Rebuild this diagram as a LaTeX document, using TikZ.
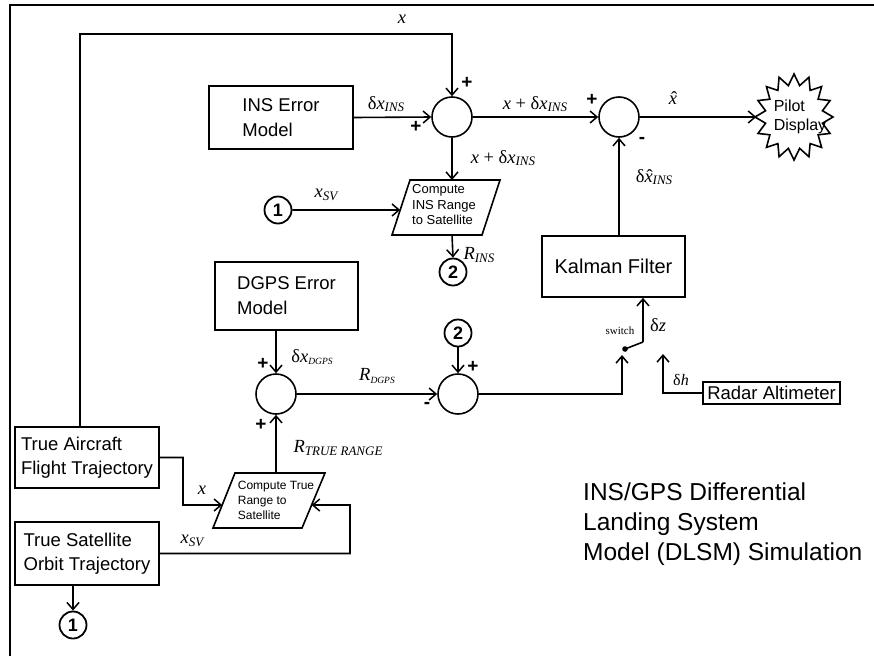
\documentclass[tikz,border=0pt]{standalone}
\usepackage{fontspec}
\setmainfont{Liberation Sans}
\newfontfamily\tms{Liberation Serif}
\usetikzlibrary{arrows.meta,calc}
\newcommand\subit[1]{\raisebox{-0.32ex}{\fontsize{13}{13}\selectfont\itshape #1}}
\newcommand\subsm[1]{\raisebox{-0.32ex}{\fontsize{9.5}{9.5}\selectfont\itshape #1}}
\newcommand\xhat{\ooalign{\textit{x}\cr\hidewidth\kern0.12em ˆ\hidewidth\cr}}
\tikzset{
  lw/.style={line width=1.6pt},
  arr/.style={lw, -{Straight Barb[length=7pt,width=12pt,line width=1.5pt]}},
  blk/.style={draw, lw, align=left, font=\fontsize{18.5}{25}\selectfont, inner sep=0pt},
  sumc/.style={draw, circle, lw, minimum size=40pt, inner sep=0pt},
  conn/.style={draw, circle, line width=1.8pt, minimum size=27pt, inner sep=0pt, font=\fontsize{18}{18}\selectfont\bfseries},
  sgn/.style={font=\fontsize{19}{19}\selectfont\bfseries, inner sep=0pt},
  lbl/.style={font=\tms\fontsize{18.5}{18.5}\selectfont, inner sep=0pt},
  ptext/.style={align=left, inner sep=0pt},
}
\begin{document}
\begin{tikzpicture}[x=1pt,y=-1pt]
\useasboundingbox (0,0) rectangle (874,656);
% frame
\draw[line width=1.3pt] (10,656) -- (10,5) -- (874,5);

% blocks
\node[blk, minimum width=144pt, minimum height=63pt] (ins) at (281,117.5) {INS Error\\Model};
\node[blk, minimum width=143pt, minimum height=68pt] (dgps) at (286.5,296) {DGPS Error\\Model};
\node[blk, minimum width=143pt, minimum height=61pt, align=center, font=\fontsize{20}{24}\selectfont] (kf) at (613.5,266.5) {Kalman Filter};
\node[blk, minimum width=137pt, minimum height=22pt, align=center] (ra) at (771.5,393) {Radar Altimeter};
\node[blk, minimum width=144pt, minimum height=61pt, font=\fontsize{18.5}{24}\selectfont] (ta) at (87,457.5) {True Aircraft\\Flight Trajectory};
\node[blk, minimum width=144pt, minimum height=63pt, font=\fontsize{18.5}{24}\selectfont] (ts) at (87,553.5) {True Satellite\\Orbit Trajectory};

% pilot display star
\node[minimum width=75pt, minimum height=85pt, inner sep=0pt] (pd) at (794,117) {};
\draw[lw, line join=miter] plot[samples at={0,...,31}, variable=\k]
  ({794+(mod(\k,2)==0 ? 39 : 29)*cos(90+\k*11.25)}, {117+(mod(\k,2)==0 ? 43 : 32)*sin(90+\k*11.25)}) -- cycle;
\node[align=left, inner sep=0pt, font=\fontsize{16}{18.5}\selectfont] (pdt) at (800,117) {Pilot\\Display};

% summing junctions
\node[sumc] (s1) at (452,117) {};
\node[sumc] (s2) at (619,117) {};
\node[sumc] (s3) at (276,394) {};
\node[sumc] (s4) at (458,394) {};

% connectors (off-page)
\node[conn] (c1a) at (278,210) {1};
\node[conn] (c2a) at (453,272) {2};
\node[conn] (c2b) at (458,333) {2};
\node[conn] (c1b) at (73,625) {1};

% parallelogram: INS range
\coordinate (pa1) at (392,235); \coordinate (pa2) at (482,235);
\coordinate (pa3) at (500,180); \coordinate (pa4) at (410,180);
\draw[lw, line join=miter] (pa1) -- (pa2) -- (pa3) -- (pa4) -- cycle;
\node[ptext, font=\fontsize{13}{15.5}\selectfont] (cins) at (444,205) {Compute\\INS Range\\to Satellite};
% parallelogram: true range
\coordinate (pb1) at (213,528); \coordinate (pb2) at (302,528);
\coordinate (pb3) at (325,473); \coordinate (pb4) at (235,473);
\draw[lw, line join=miter] (pb1) -- (pb2) -- (pb3) -- (pb4) -- cycle;
\node[ptext, font=\fontsize{12}{15}\selectfont] (ctr) at (276,500) {Compute True\\Range to\\Satellite};

\coordinate (ledge) at ($(pa1)!0.455!(pa4)$);
\coordinate (tledge) at ($(pb1)!0.418!(pb4)$);
\coordinate (tredge) at ($(pb2)!0.418!(pb3)$);
\coordinate (lc) at (80,34);
\coordinate (tl) at (183,505);
\coordinate (tr) at (350,505);
\coordinate (swin) at (622,355);
\coordinate (swd) at (625,349);
\coordinate (swe) at (643,342);
\coordinate (rin) at (663,354);

% wiring
\draw[arr] (ins.east) -- (s1.west);
\draw[arr] (ta.north -| lc) -- (lc) -| (s1.north);
\draw[arr] (s1.east) -- (s2.west);
\draw[arr] (s2.east) -- (pd.west);
\draw[arr] (s2.south |- kf.north) -- (s2.south);
\draw[arr] (s1.south) -- (s1.south |- pa4);
\draw[arr] (c1a.east) -- (ledge);
\draw[arr] (s1.south |- pa1) -- (c2a.north);
\draw[arr] (s3.north |- dgps.south) -- (s3.north);
\draw[arr] (s3.east) -- (s4.west);
\draw[arr] (c2b.south) -- (s4.north);
\draw[arr] (s4.east) -| (swin);
\fill (swd) circle (2.8pt);
\draw[lw] (swd) -- (swe);
\draw[arr] (swe) -- (swe |- kf.south);
\draw[arr] (ra.west) -| (rin);
\draw[arr] (ta.east) -| (tl) -- (tledge);
\draw[arr] (ts.east) -| (tr) -- (tredge);
\draw[arr] (s3.south |- pb4) -- (s3.south);
\draw[arr] (c1b.north |- ts.south) -- (c1b.north);

% signs
\node[sgn] (p1) at (467,83) {+};
\node[sgn] (p2) at (416,127) {+};
\node[sgn] (p3) at (592,100) {+};
\node[sgn] (m1) at (642,140) {-};
\node[sgn] (p4) at (263,364) {+};
\node[sgn] (p5) at (261,425) {+};
\node[sgn] (m2) at (427,405) {-};
\node[sgn] (p6) at (473,367) {+};

% labels
\node[lbl] (lx) at (402,19) {\textit{x}};
\node[lbl] (ldi) at (386,104) {δ\textit{x}\subit{INS}};
\node[lbl] (lxd1) at (535,104) {\textit{x} + δ\textit{x}\subit{INS}};
\node[lbl] (lxd2) at (503,158) {\textit{x} + δ\textit{x}\subit{INS}};
\node[lbl] (lxh) at (673,100) {\xhat};
\node[lbl] (ldxh) at (654,177) {δ\xhat\subit{INS}};
\node[lbl] (lxsv1) at (326,195) {\textit{x}\subit{SV}};
\node[lbl] (lrins) at (479,255) {\textit{R}\subit{INS}};
\node[lbl] (ldg) at (312,357) {δ\textit{x}\subsm{DGPS}};
\node[lbl] (lrdg) at (377,376) {\textit{R}\subsm{DGPS}};
\node[lbl] (lrtr) at (338,448) {\textit{R}\subit{TRUE RANGE}};
\node[lbl] (lx2) at (202,490) {\textit{x}};
\node[lbl] (lxsv2) at (192,541) {\textit{x}\subit{SV}};
\node[lbl, font=\tms\fontsize{11}{11}\selectfont] (lsw) at (620,331) {switch};
\node[lbl] (ldz) at (658,325) {δ\textit{z}};
\node[lbl, font=\tms\fontsize{16}{16}\selectfont] (ldh) at (681,380) {δ\textit{h}};

% title
\node[anchor=west, align=left, inner sep=0pt, font=\fontsize{24.5}{30}\selectfont] (title) at (583,524) {INS/GPS Differential\\Landing System\\Model (DLSM) Simulation};
\end{tikzpicture}
\end{document}
